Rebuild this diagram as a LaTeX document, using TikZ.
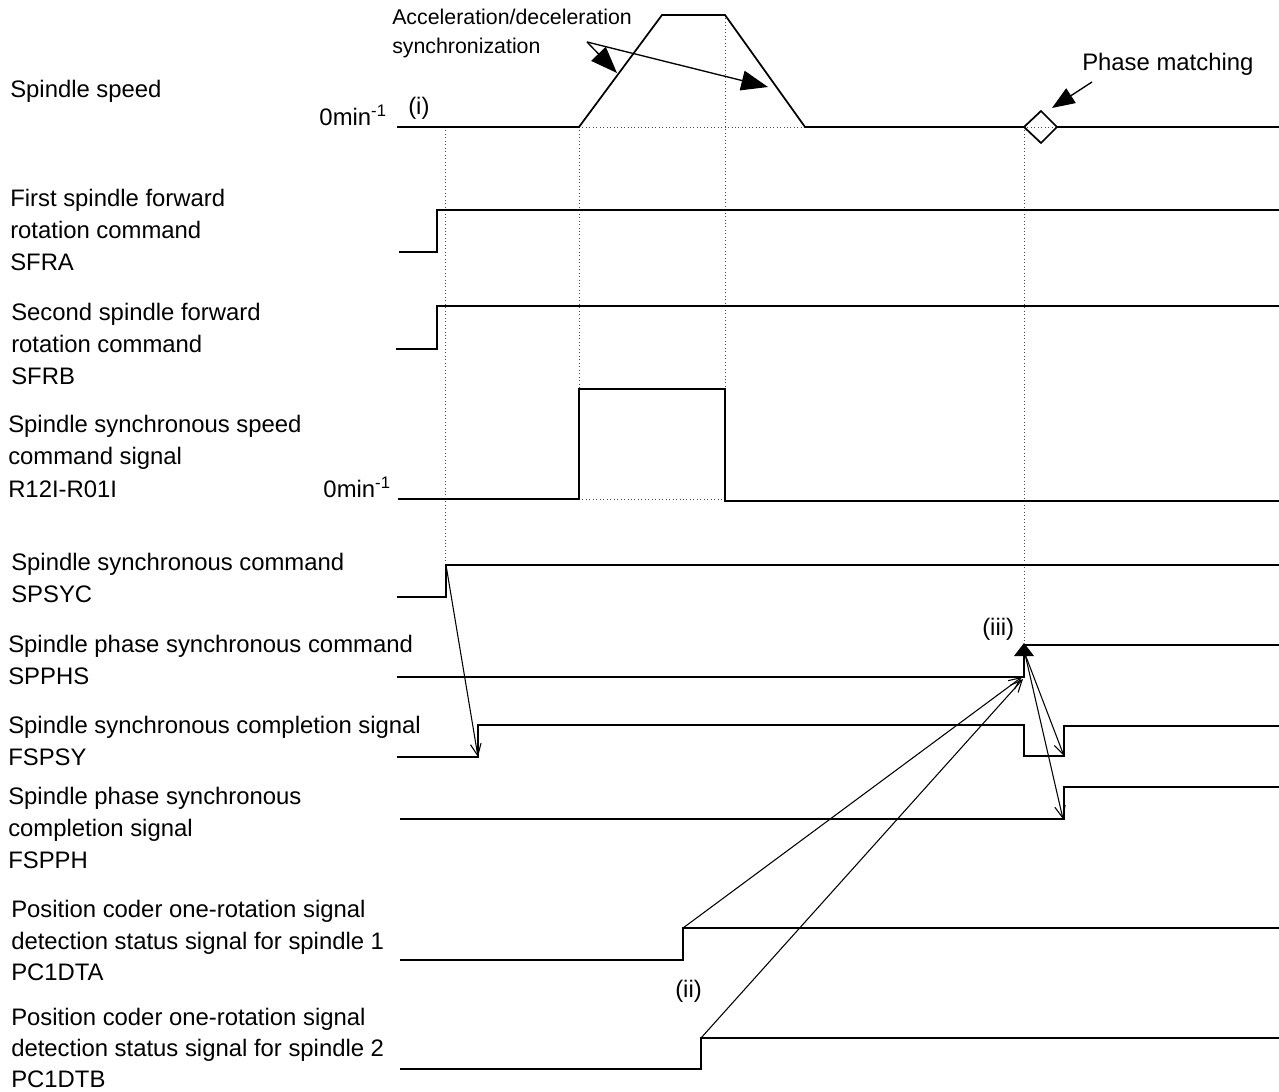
\documentclass[tikz,border=0pt]{standalone}
\usepackage{fontspec}
\setmainfont{Liberation Sans}
\usetikzlibrary{arrows.meta}
\tikzset{
  sig/.style={line width=1.3pt,line join=miter},
  guide/.style={line width=0.6pt,dotted,black!70},
  thinarrow/.style={line width=0.8pt,-{Straight Barb[length=9pt,width=8pt,line width=0.8pt]}},
  bigarrow/.style={line width=1pt,-{Triangle[length=20pt,width=15pt]}},
  midarrow/.style={line width=1pt,-{Triangle[length=17pt,width=13pt]}},
  lbl/.style={anchor=base west,inner sep=0pt,font=\fontsize{17.9}{22}\selectfont},
  lblr/.style={anchor=base east,inner sep=0pt,font=\fontsize{17.9}{22}\selectfont},
  lbls/.style={anchor=base west,inner sep=0pt,font=\fontsize{16}{20}\selectfont},
}
\begin{document}
\begin{tikzpicture}[x=0.75pt,y=-0.75pt]
\useasboundingbox[fill=white] (0,0) rectangle (1279,1092);

% ---------- labels ----------
\node[lbl] (t1) at (10,97) {Spindle speed};
\node[lbl] (t2a) at (10,206) {First spindle forward};
\node[lbl] (t2b) at (10,238) {rotation command};
\node[lbl] (t2c) at (10,270) {SFRA};
\node[lbl] (t3a) at (11,320) {Second spindle forward};
\node[lbl] (t3b) at (11,352) {rotation command};
\node[lbl] (t3c) at (11,384) {SFRB};
\node[lbl] (t4a) at (8,432) {Spindle synchronous speed};
\node[lbl] (t4b) at (8,464) {command signal};
\node[lbl] (t4c) at (8,497) {R12I-R01I};
\node[lbl] (t5a) at (11,570) {Spindle synchronous command};
\node[lbl] (t5b) at (11,602) {SPSYC};
\node[lbl] (t6a) at (8,652) {Spindle phase synchronous command};
\node[lbl] (t6b) at (8,684) {SPPHS};
\node[lbl] (t7a) at (8,733) {Spindle synchronous completion signal};
\node[lbl] (t7b) at (8,765) {FSPSY};
\node[lbl] (t8a) at (8,804) {Spindle phase synchronous};
\node[lbl] (t8b) at (8,836) {completion signal};
\node[lbl] (t8c) at (8,868) {FSPPH};
\node[lbl] (t9a) at (11,917) {Position coder one-rotation signal};
\node[lbl] (t9b) at (11,949) {detection status signal for spindle 1};
\node[lbl] (t9c) at (11,980) {PC1DTA};
\node[lbl] (t10a) at (11,1025) {Position coder one-rotation signal};
\node[lbl] (t10b) at (11,1056) {detection status signal for spindle 2};
\node[lbl] (t10c) at (11,1087) {PC1DTB};

\node[lblr] (z1) at (387,125) {0min\textsuperscript{-1}};
\node[lblr] (z2) at (391,497) {0min\textsuperscript{-1}};
\node[lbl] (ni) at (408,114) {(i)};
\node[lbl] (nii) at (675,997) {(ii)};
\node[lbl] (niii) at (982,635) {(iii)};
\node[lbls] (acc1) at (392,25) {Acceleration/deceleration};
\node[lbls] (acc2) at (392,53) {synchronization};
\node[lbl] (pm) at (1082,70) {Phase matching};

% ---------- key points ----------
\coordinate (sA) at (579,127);
\coordinate (sB) at (662,15);
\coordinate (sC) at (725,15);
\coordinate (sD) at (805,127);
\coordinate (dL) at (1024,127);
\coordinate (dT) at (1041,111);
\coordinate (dR) at (1057,127);
\coordinate (dB) at (1041,143);

% ---------- dotted guides ----------
\draw[guide] (sA) -- (sD);
\draw[guide] (dL) -- (dR);
\draw[guide] (445,127) -- (445,565);
\draw[guide] (sA) -- (579,499);
\draw[guide] (sC) -- (725,499);
\draw[guide] (dL) -- (1024,645);
\draw[guide] (579,499) -- (725,499);

% ---------- spindle speed ----------
\draw[sig] (397,127) -- (sA) -- (sB) -- (sC) -- (sD) -- (dL);
\draw[sig,line join=miter] (dL) -- (dT) -- (dR) -- (dB) -- cycle;
\draw[sig] (dR) -- (1279,127);

% ---------- signals ----------
\draw[sig] (399,252) -- (437,252) -- (437,210) -- (1279,210);
\draw[sig] (396,349) -- (437,349) -- (437,306) -- (1279,306);
\draw[sig] (398,499) -- (579,499) -- (579,389) -- (725,389) -- (725,501) -- (1279,501);
\coordinate (spsycR) at (446,565);
\draw[sig] (397,597) -- (446,597) -- (spsycR) -- (1279,565);
\coordinate (spphsL) at (1024,677);
\draw[sig] (397,677) -- (spphsL) -- (1024,652);
\draw[sig] (1024,645) -- (1279,645);
\coordinate (fspsyL) at (478,757);
\coordinate (fspsyR) at (1064,756);
\draw[sig] (397,757) -- (fspsyL) -- (478,725) -- (1024,725) -- (1024,756) -- (fspsyR) -- (1064,726) -- (1279,726);
\coordinate (fspphR) at (1064,819);
\draw[sig] (400,819) -- (fspphR) -- (1064,787) -- (1279,787);
\coordinate (pcaR) at (683,928);
\draw[sig] (400,960) -- (683,960) -- (pcaR) -- (1279,928);
\coordinate (pcbR) at (701,1038);
\draw[sig] (400,1069) -- (701,1069) -- (pcbR) -- (1279,1038);

% ---------- (iii) triangle ----------
\coordinate (iiiT) at (1024,643);
\fill (iiiT) -- (1034,656) -- (1014,656) -- cycle;
\coordinate (iiiS) at (1025,654);

% ---------- connectors ----------
\draw[thinarrow] (spsycR) -- (fspsyL);
\draw[thinarrow] (pcaR) -- (1022,677);
\draw[thinarrow] (pcbR) -- (1023,679);
\draw[thinarrow] (iiiS) -- (fspsyR);
\draw[thinarrow] (iiiS) -- (1063,819);

\coordinate (accO) at (587,42);
\draw[bigarrow] (accO) -- (617,73);
\draw[bigarrow] (accO) -- (768,87);
\draw[midarrow] (1092,82) -- (1052,108);
\end{tikzpicture}
\end{document}
